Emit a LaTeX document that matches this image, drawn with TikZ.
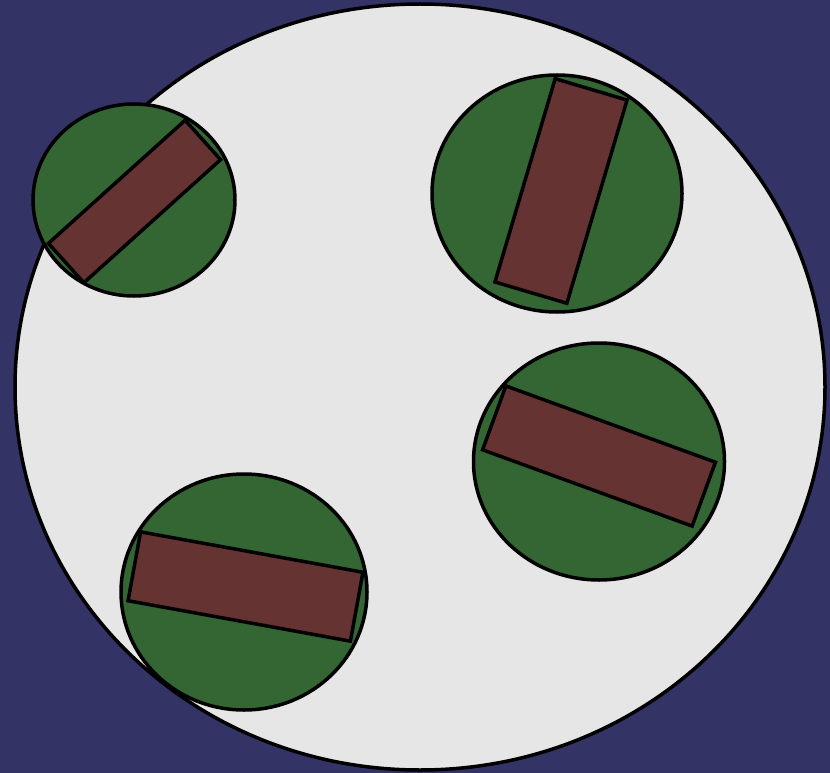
\documentclass[tikz,border=0pt]{standalone}
\definecolor{night}{HTML}{333366}
\definecolor{plategray}{HTML}{E6E6E6}
\definecolor{feltgreen}{HTML}{336633}
\definecolor{woodbrown}{HTML}{663333}
\tikzset{
  plate/.style={fill=plategray, draw=black, line width=3.5pt},
  disc/.style={fill=feltgreen, draw=black, line width=3.5pt},
  bar/.style={fill=woodbrown, draw=black, line width=3.5pt, line join=miter},
}
\begin{document}
\begin{tikzpicture}[x=1pt, y=-1pt]
  \useasboundingbox (0,0) rectangle (830,773);
  % Background and table
  \fill[night] (0,0) rectangle (830,773);
  \draw[plate] (420,387) ellipse [x radius=405, y radius=383];

  % Top-left token
  \begin{scope}[shift={(134,200)}]
    \draw[disc] (0,0) ellipse [x radius=101, y radius=96];
    \draw[bar, shift={(0.5,1.5)}, rotate=42] (-92,-26.5) rectangle (92,26.5);
  \end{scope}

  % Top-right token
  \begin{scope}[shift={(557,193.5)}]
    \draw[disc] (0,0) ellipse [x radius=125, y radius=118.5];
    \draw[bar, shift={(4,-2.5)}, rotate=73.5] (-106,-37.5) rectangle (106,37.5);
  \end{scope}

  % Right token
  \begin{scope}[shift={(599,461.5)}]
    \draw[disc] (0,0) ellipse [x radius=125.5, y radius=118.5];
    \draw[bar, shift={(0,-5.5)}, rotate=-20] (-111.5,-34) rectangle (111.5,34);
  \end{scope}

  % Bottom-left token
  \begin{scope}[shift={(244,592)}]
    \draw[disc] (0,0) ellipse [x radius=123, y radius=118];
    \draw[bar, shift={(1.5,-5.5)}, rotate=-10.3] (-113,-35) rectangle (113,35);
  \end{scope}
\end{tikzpicture}
\end{document}
